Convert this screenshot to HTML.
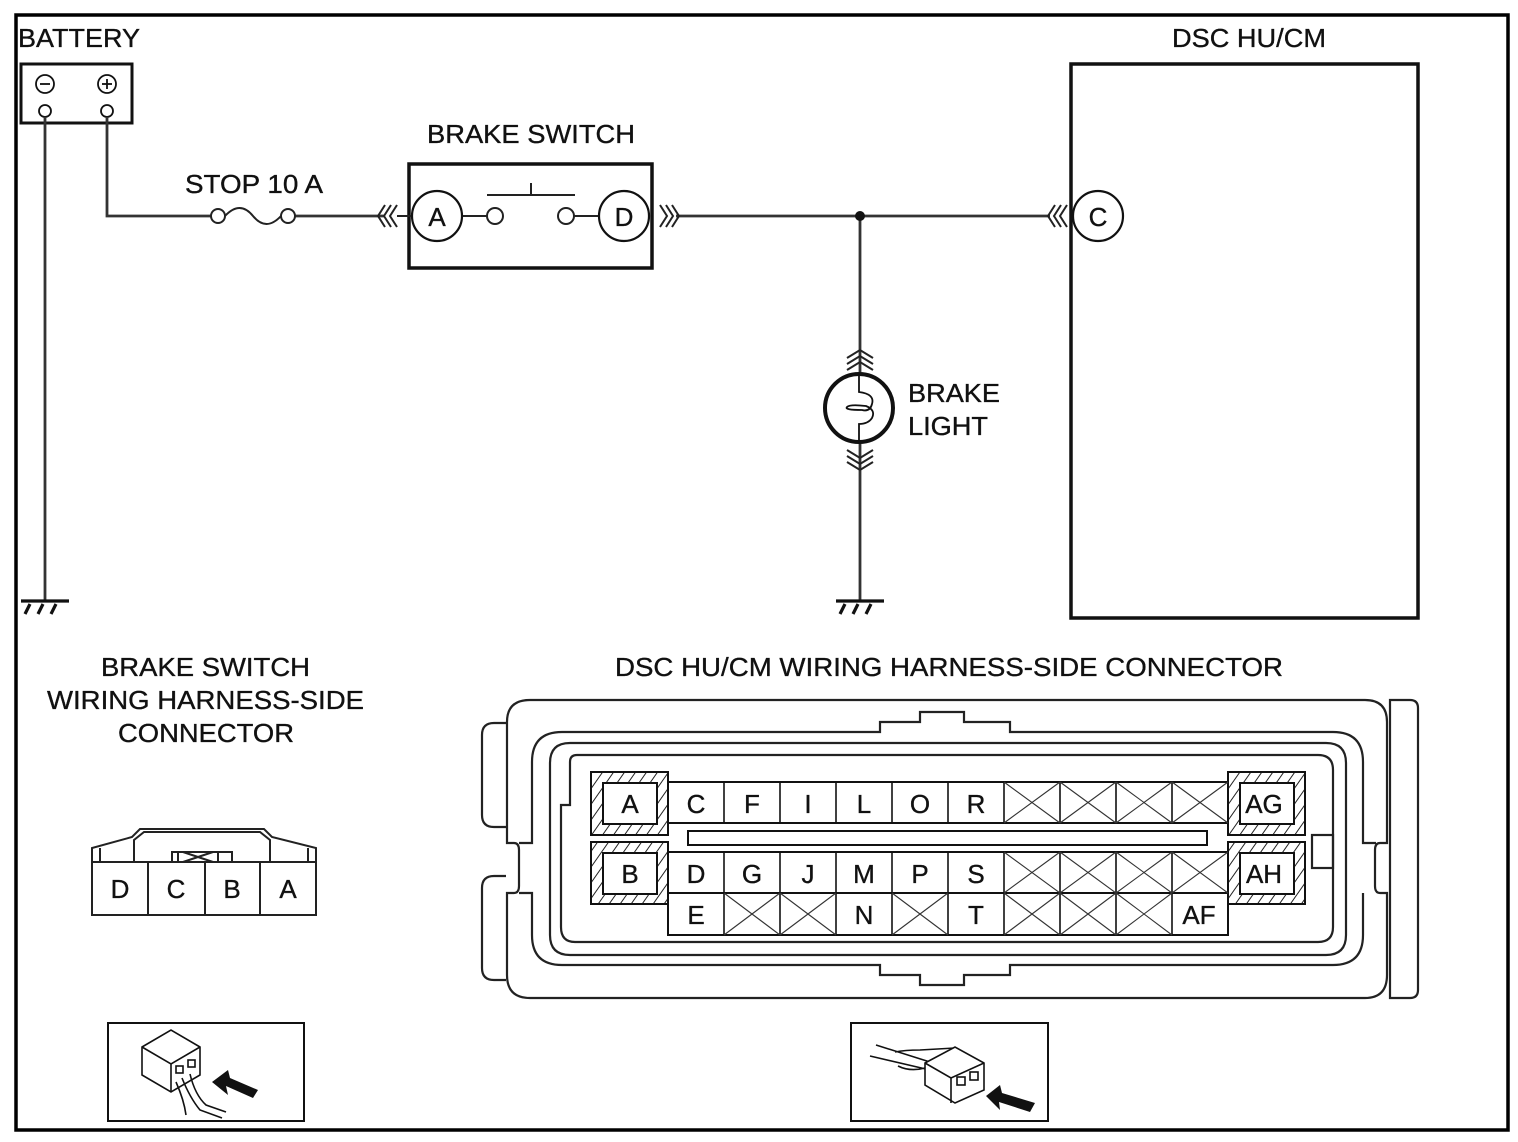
<!DOCTYPE html>
<html><head><meta charset="utf-8"><style>
html,body{margin:0;padding:0;background:#fff}
svg{display:block}
text{font-family:"Liberation Sans",Arial,sans-serif;fill:#111;stroke:#111;stroke-width:0.35}
</style></head><body>
<svg width="1518" height="1142" viewBox="0 0 1518 1142" xmlns="http://www.w3.org/2000/svg">
<defs>
<pattern id="h" width="9" height="9" patternUnits="userSpaceOnUse" patternTransform="rotate(35)">
<rect width="9" height="9" fill="#fff"/><line x1="0" y1="0" x2="0" y2="9" stroke="#222" stroke-width="2"/>
</pattern>
</defs>
<rect x="16" y="15" width="1492" height="1115" fill="none" stroke="#000" stroke-width="3.5"/>

<!-- battery -->
<text x="18" y="47" font-size="26" textLength="122" lengthAdjust="spacingAndGlyphs">BATTERY</text>
<rect x="21" y="64" width="111" height="59" fill="none" stroke="#111" stroke-width="3"/>
<circle cx="45" cy="84" r="9" fill="none" stroke="#111" stroke-width="1.8"/><line x1="40" y1="84" x2="50" y2="84" stroke="#111" stroke-width="1.8"/>
<circle cx="107" cy="84" r="9" fill="none" stroke="#111" stroke-width="1.8"/><line x1="102" y1="84" x2="112" y2="84" stroke="#111" stroke-width="1.8"/><line x1="107" y1="79" x2="107" y2="89" stroke="#111" stroke-width="1.8"/>
<circle cx="45" cy="111" r="6" fill="#fff" stroke="#111" stroke-width="1.8"/>
<circle cx="107" cy="111" r="6" fill="#fff" stroke="#111" stroke-width="1.8"/>
<g stroke="#333" stroke-width="2.8" fill="none">
<line x1="45" y1="117" x2="45" y2="600"/>
<polyline points="107,117 107,216 211,216"/>
<line x1="295" y1="216" x2="385" y2="216"/>
<line x1="676" y1="216" x2="1050" y2="216"/>
<line x1="860" y1="216" x2="860" y2="374"/>
<line x1="860" y1="442" x2="860" y2="600"/>
</g>
<!-- grounds -->
<g stroke="#111" stroke-width="3.2" fill="none">
<line x1="21" y1="601" x2="69" y2="601"/>
<line x1="30" y1="604" x2="25" y2="614"/><line x1="43" y1="604" x2="38" y2="614"/><line x1="56" y1="604" x2="51" y2="614"/>
<line x1="836" y1="601" x2="884" y2="601"/>
<line x1="845" y1="604" x2="840" y2="614"/><line x1="858" y1="604" x2="853" y2="614"/><line x1="871" y1="604" x2="866" y2="614"/>
</g>
<!-- fuse -->
<text x="185" y="193" font-size="26" textLength="138" lengthAdjust="spacingAndGlyphs">STOP 10 A</text>
<circle cx="218" cy="216" r="7" fill="#fff" stroke="#222" stroke-width="2"/>
<circle cx="288" cy="216" r="7" fill="#fff" stroke="#222" stroke-width="2"/>
<path d="M225,216 Q240,200 253,216 Q266,232 281,216" fill="none" stroke="#222" stroke-width="2"/>
<!-- brake switch -->
<text x="427" y="143" font-size="26" textLength="208" lengthAdjust="spacingAndGlyphs">BRAKE SWITCH</text>
<rect x="409" y="164" width="243" height="104" fill="none" stroke="#111" stroke-width="3.5"/>
<g stroke="#222" stroke-width="2" fill="none">
<polyline points="385,205 378,216 385,227"/><polyline points="391,205 384,216 391,227"/><polyline points="397,205 390,216 397,227"/>
<polyline points="660,205 667,216 660,227"/><polyline points="666,205 673,216 666,227"/><polyline points="672,205 679,216 672,227"/>
<line x1="397" y1="216" x2="412" y2="216"/>
<line x1="462" y1="216" x2="487" y2="216"/>
<line x1="574" y1="216" x2="599" y2="216"/>
<line x1="487" y1="195" x2="575" y2="195"/><line x1="531" y1="183" x2="531" y2="195"/>
</g>
<circle cx="437" cy="216" r="25" fill="#fff" stroke="#111" stroke-width="2.2"/>
<circle cx="624" cy="216" r="25" fill="#fff" stroke="#111" stroke-width="2.2"/>
<circle cx="495" cy="216" r="8" fill="#fff" stroke="#222" stroke-width="2"/>
<circle cx="566" cy="216" r="8" fill="#fff" stroke="#222" stroke-width="2"/>
<text x="437" y="226" font-size="26" text-anchor="middle">A</text>
<text x="624" y="226" font-size="26" text-anchor="middle">D</text>
<circle cx="860" cy="216" r="5" fill="#111"/>
<!-- DSC -->
<text x="1172" y="47" font-size="26" textLength="154" lengthAdjust="spacingAndGlyphs">DSC HU/CM</text>
<rect x="1071" y="64" width="347" height="554" fill="none" stroke="#111" stroke-width="3.5"/>
<g stroke="#222" stroke-width="2" fill="none">
<polyline points="1055,205 1048,216 1055,227"/><polyline points="1061,205 1054,216 1061,227"/><polyline points="1067,205 1060,216 1067,227"/>
</g>
<circle cx="1098" cy="216" r="25" fill="#fff" stroke="#111" stroke-width="2.2"/>
<text x="1098" y="226" font-size="26" text-anchor="middle">C</text>
<!-- bulb -->
<g stroke="#222" stroke-width="2" fill="none">
<polyline points="847,358 860,350 873,358"/><polyline points="847,364 860,356 873,364"/><polyline points="847,370 860,362 873,370"/>
<polyline points="847,450 860,458 873,450"/><polyline points="847,456 860,464 873,456"/><polyline points="847,462 860,470 873,462"/>
</g>
<circle cx="859" cy="408" r="34" fill="#fff" stroke="#111" stroke-width="4"/>
<path d="M859,374 L859,392 Q875,394 872,404 Q870,412 862,410 Q844,410 847,407 Q850,404 866,406 Q876,410 872,418 Q868,424 859,424 L859,442" fill="none" stroke="#111" stroke-width="1.8"/>
<text x="908" y="402" font-size="26" textLength="92" lengthAdjust="spacingAndGlyphs">BRAKE</text>
<text x="908" y="435" font-size="26" textLength="80" lengthAdjust="spacingAndGlyphs">LIGHT</text>

<!-- bottom labels -->
<g font-size="26">
<text x="101" y="676" textLength="209" lengthAdjust="spacingAndGlyphs">BRAKE SWITCH</text>
<text x="47" y="709" textLength="317" lengthAdjust="spacingAndGlyphs">WIRING HARNESS-SIDE</text>
<text x="118" y="742" textLength="176" lengthAdjust="spacingAndGlyphs">CONNECTOR</text>
<text x="615" y="676" textLength="668" lengthAdjust="spacingAndGlyphs">DSC HU/CM WIRING HARNESS-SIDE CONNECTOR</text>
</g>

<!-- small connector -->
<g stroke="#222" stroke-width="2" fill="#fff">
<path d="M92,862 L92,848 L132,837 L140,829 L264,829 L272,837 L316,848 L316,862"/>
<polyline points="100,848 100,862" fill="none"/><polyline points="308,848 308,862" fill="none"/>
<path d="M134,862 L134,840 L144,832 L260,832 L270,840 L270,862" fill="none"/>
<rect x="172" y="852" width="60" height="10"/>
<rect x="178" y="852" width="40" height="10"/>
<line x1="183" y1="852" x2="213" y2="862"/><line x1="183" y1="862" x2="213" y2="852"/>
<rect x="92" y="862" width="224" height="53"/>
<line x1="148" y1="862" x2="148" y2="915"/><line x1="205" y1="862" x2="205" y2="915"/><line x1="260" y1="862" x2="260" y2="915"/>
</g>
<g font-size="26" text-anchor="middle">
<text x="120" y="898">D</text><text x="176" y="898">C</text><text x="232" y="898">B</text><text x="288" y="898">A</text>
</g>

<!-- big connector -->
<g stroke="#222" stroke-width="2.2" fill="none">
<path d="M482,735 Q482,723 494,723 L506,723 M482,735 L482,815 Q482,827 494,827 L506,827"/>
<path d="M482,888 Q482,876 494,876 L506,876 M482,888 L482,968 Q482,980 494,980 L506,980"/>
<path d="M530,700 L1365,700 Q1387,700 1387,722 L1387,843 L1380,843 Q1375,843 1375,850 L1375,886 Q1375,893 1380,893 L1387,893 L1387,975 Q1387,998 1365,998 L530,998 Q507,998 507,975 L507,893 L514,893 Q519,893 519,886 L519,850 Q519,843 514,843 L507,843 L507,722 Q507,700 530,700 Z"/>
<path d="M1390,700 L1410,700 Q1418,700 1418,708 L1418,990 Q1418,998 1410,998 L1390,998 Z"/>
<path d="M562,732 L880,732 L880,722 L920,722 L920,712 L964,712 L964,722 L1010,722 L1010,732 L1333,732 Q1363,732 1363,762 L1363,843 L1376,843 M1363,893 L1363,935 Q1363,965 1333,965 L1010,965 L1010,975 L964,975 L964,985 L920,985 L920,975 L880,975 L880,965 L562,965 Q532,965 532,935 L532,893 L519,893 M519,843 L532,843 L532,762 Q532,732 562,732"/>
<path d="M570,743 L1326,743 Q1346,743 1346,763 L1346,935 Q1346,955 1326,955 L570,955 Q550,955 550,935 L550,763 Q550,743 570,743 Z"/>
<path d="M577,755 L1318,755 Q1333,755 1333,770 L1333,927 Q1333,942 1318,942 L575,942 Q561,942 561,927 L561,805 L570,805 L570,762 Q570,755 577,755 Z"/>
<rect x="1312" y="835" width="21" height="33"/>
</g>
<g stroke="#111" stroke-width="2">
<rect x="591" y="772" width="77" height="63" fill="url(#h)"/><rect x="603" y="783" width="54" height="41" fill="#fff"/>
<rect x="591" y="842" width="77" height="62" fill="url(#h)"/><rect x="603" y="853" width="54" height="41" fill="#fff"/>
<rect x="1228" y="772" width="77" height="63" fill="url(#h)"/><rect x="1240" y="783" width="54" height="41" fill="#fff"/>
<rect x="1228" y="842" width="77" height="62" fill="url(#h)"/><rect x="1240" y="853" width="54" height="41" fill="#fff"/>
<rect x="688" y="831" width="519" height="14" fill="#fff"/>
</g>
<g stroke="#111" stroke-width="2" fill="#fff">
<rect x="668" y="782" width="560" height="41"/>
<rect x="668" y="852" width="560" height="41"/>
<rect x="668" y="893" width="560" height="42"/>
</g>
<g stroke="#111" stroke-width="1.6">
<line x1="724" y1="782" x2="724" y2="823"/><line x1="780" y1="782" x2="780" y2="823"/><line x1="836" y1="782" x2="836" y2="823"/><line x1="892" y1="782" x2="892" y2="823"/><line x1="948" y1="782" x2="948" y2="823"/><line x1="1004" y1="782" x2="1004" y2="823"/><line x1="1060" y1="782" x2="1060" y2="823"/><line x1="1116" y1="782" x2="1116" y2="823"/><line x1="1172" y1="782" x2="1172" y2="823"/>
<line x1="724" y1="852" x2="724" y2="935"/><line x1="780" y1="852" x2="780" y2="935"/><line x1="836" y1="852" x2="836" y2="935"/><line x1="892" y1="852" x2="892" y2="935"/><line x1="948" y1="852" x2="948" y2="935"/><line x1="1004" y1="852" x2="1004" y2="935"/><line x1="1060" y1="852" x2="1060" y2="935"/><line x1="1116" y1="852" x2="1116" y2="935"/><line x1="1172" y1="852" x2="1172" y2="935"/>
</g>
<g stroke="#333" stroke-width="1.1">
<path d="M1004,782 L1060,823 M1060,782 L1004,823 M1060,782 L1116,823 M1116,782 L1060,823 M1116,782 L1172,823 M1172,782 L1116,823 M1172,782 L1228,823 M1228,782 L1172,823"/>
<path d="M1004,852 L1060,893 M1060,852 L1004,893 M1060,852 L1116,893 M1116,852 L1060,893 M1116,852 L1172,893 M1172,852 L1116,893 M1172,852 L1228,893 M1228,852 L1172,893"/>
<path d="M724,893 L780,935 M780,893 L724,935 M780,893 L836,935 M836,893 L780,935 M892,893 L948,935 M948,893 L892,935 M1004,893 L1060,935 M1060,893 L1004,935 M1060,893 L1116,935 M1116,893 L1060,935 M1116,893 L1172,935 M1172,893 L1116,935"/>
</g>
<g font-size="26" text-anchor="middle">
<text x="630" y="813">A</text><text x="630" y="883">B</text>
<text x="1264" y="813">AG</text><text x="1264" y="883">AH</text>
<text x="696" y="813">C</text><text x="752" y="813">F</text><text x="808" y="813">I</text><text x="864" y="813">L</text><text x="920" y="813">O</text><text x="976" y="813">R</text>
<text x="696" y="883">D</text><text x="752" y="883">G</text><text x="808" y="883">J</text><text x="864" y="883">M</text><text x="920" y="883">P</text><text x="976" y="883">S</text>
<text x="696" y="924">E</text><text x="864" y="924">N</text><text x="976" y="924">T</text><text x="1199" y="924">AF</text>
</g>

<!-- icons -->
<rect x="108" y="1023" width="196" height="98" fill="none" stroke="#111" stroke-width="2"/>
<g stroke="#111" stroke-width="1.6" fill="#fff">
<path d="M142,1047 L171,1030 L200,1047 L200,1075 L171,1092 L142,1075 Z"/>
<path d="M142,1047 L171,1064 L200,1047 M171,1064 L171,1092" fill="none"/>
<path d="M176,1082 Q184,1100 186,1115 M182,1078 Q190,1098 200,1110 L222,1118 M190,1074 Q195,1095 206,1105 L226,1112" fill="none"/>
<rect x="176" y="1066" width="7" height="7"/><rect x="188" y="1060" width="7" height="7"/>
</g>
<path d="M212,1082 L228,1070 L230,1078 L258,1090 L253,1098 L226,1086 L228,1095 Z" fill="#111"/>
<rect x="851" y="1023" width="197" height="98" fill="none" stroke="#111" stroke-width="2"/>
<g stroke="#111" stroke-width="1.6" fill="#fff">
<path d="M876,1045 L930,1062 M870,1056 L930,1070 M895,1052 Q905,1050 920,1050 L955,1048 M898,1066 Q910,1072 925,1068" fill="none"/>
<path d="M925,1063 L955,1047 L984,1063 L984,1090 L955,1103 L925,1085 Z"/>
<path d="M925,1063 L951,1078 L984,1063 M951,1078 L951,1103" fill="none"/>
<rect x="957" y="1077" width="8" height="8"/><rect x="970" y="1072" width="8" height="8"/>
</g>
<path d="M986,1096 L1000,1085 L1002,1093 L1035,1103 L1030,1112 L999,1102 L1000,1110 Z" fill="#111"/>
</svg>
</body></html>
